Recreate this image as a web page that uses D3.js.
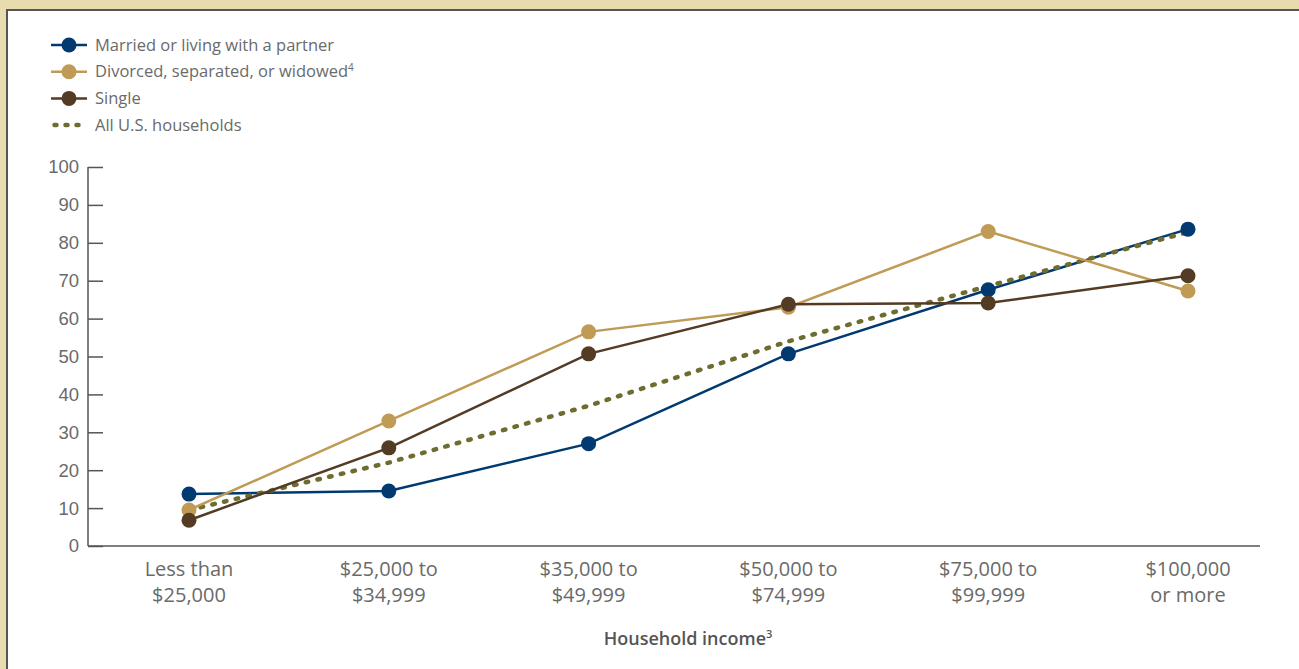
<!DOCTYPE html>
<html>
<head>
<meta charset="utf-8">
<script src="https://cdn.jsdelivr.net/npm/d3@7"></script>
<style>
  body { margin: 0; background: #e8dcae; }
  svg { display: block; font-family: "Open Sans", Lato, sans-serif; }
</style>
</head>
<body>
<div id="chart"></div>
<script>
// Income brackets (two-line labels)
const categories = [
  ["Less than", "$25,000"],
  ["$25,000 to", "$34,999"],
  ["$35,000 to", "$49,999"],
  ["$50,000 to", "$74,999"],
  ["$75,000 to", "$99,999"],
  ["$100,000", "or more"]
];

const married = [13.7, 14.5, 27, 50.7, 67.6, 83.6];
const divorced = [9.5, 33, 56.5, 63, 83, 67.3];
const single = [6.8, 25.9, 50.7, 63.8, 64.1, 71.3];
const allUS = [9.5, 22, 37, 54, 68.6, 82.8];

const yTicks = [0, 10, 20, 30, 40, 50, 60, 70, 80, 90, 100];

const series = [
  { name: "Married or living with a partner", sup: "", values: married, color: "#003a70", dotted: false },
  { name: "Divorced, separated, or widowed", sup: "4", values: divorced, color: "#bf9b55", dotted: false },
  { name: "Single", sup: "", values: single, color: "#533b24", dotted: false },
  { name: "All U.S. households", sup: "", values: allUS, color: "#6e6c2f", dotted: true }
];

const W = 1299, H = 669;
const svg = d3.select("#chart").append("svg")
    .attr("width", W)
    .attr("height", H);

// white panel with dark top/left border
svg.append("rect")
    .attr("x", 7).attr("y", 10)
    .attr("width", W).attr("height", H)
    .attr("fill", "#fff");
svg.append("path")
    .attr("d", `M7,${H} V10 H${W}`)
    .attr("fill", "none")
    .attr("stroke", "#555")
    .attr("stroke-width", 2);

const x = d3.scalePoint()
    .domain(d3.range(categories.length))
    .range([189, 1188]);

const y = d3.scaleLinear()
    .domain([0, 100])
    .range([546, 167]);

// y axis
const yAxis = svg.append("g")
    .attr("transform", "translate(88,0)")
    .call(d3.axisRight(y).tickValues(yTicks).tickSize(15).tickFormat(d3.format("d")));
yAxis.select(".domain").remove();
yAxis.selectAll(".tick line").attr("stroke", "#555").attr("stroke-width", 1.5);
yAxis.selectAll(".tick text")
    .attr("x", -9)
    .attr("text-anchor", "end")
    .attr("fill", "#6a6a6a")
    .style("font-size", "18.5px");
svg.append("line")
    .attr("x1", 88).attr("x2", 88)
    .attr("y1", y(100)).attr("y2", y(0))
    .attr("stroke", "#555").attr("stroke-width", 1.5);

// x axis
svg.append("line")
    .attr("x1", 88).attr("x2", 1260)
    .attr("y1", y(0)).attr("y2", y(0))
    .attr("stroke", "#555").attr("stroke-width", 1.5);

const xLabels = svg.append("g").selectAll("text")
    .data(categories)
    .join("text")
    .attr("x", (d, i) => x(i))
    .attr("y", 576)
    .attr("text-anchor", "middle")
    .attr("fill", "#6a6a6a")
    .style("font-size", "20px");
xLabels.append("tspan").attr("x", (d, i) => x(i)).text(d => d[0]);
xLabels.append("tspan").attr("x", (d, i) => x(i)).attr("dy", 26).text(d => d[1]);

const title = svg.append("text")
    .attr("x", 688).attr("y", 645)
    .attr("text-anchor", "middle")
    .attr("fill", "#555")
    .style("font-size", "18px")
    .style("font-weight", "600")
    .text("Household income");
title.append("tspan").attr("dy", -7).style("font-size", "11px").text("3");

// lines
const line = d3.line()
    .x((d, i) => x(i))
    .y(d => y(d));

const drawOrder = [series[0], series[3], series[1], series[2]];
drawOrder.forEach(s => {
  const p = svg.append("path")
      .datum(s.values)
      .attr("d", line)
      .attr("fill", "none")
      .attr("stroke", s.color);
  if (s.dotted) {
    p.attr("stroke-width", 4.5)
     .attr("stroke-dasharray", "2.5,9.5")
     .attr("stroke-linecap", "round");
  } else {
    p.attr("stroke-width", 2.5);
  }
});

// markers
[series[0], series[1], series[2]].forEach(s => {
  svg.append("g").selectAll("circle")
      .data(s.values)
      .join("circle")
      .attr("cx", (d, i) => x(i))
      .attr("cy", d => y(d))
      .attr("r", 7.5)
      .attr("fill", s.color);
});

// legend
const legend = svg.append("g").selectAll("g")
    .data(series)
    .join("g")
    .attr("transform", (d, i) => `translate(51,${45 + i * 26.7})`);

legend.each(function(s) {
  const g = d3.select(this);
  if (s.dotted) {
    g.append("line")
        .attr("x1", 3.5).attr("x2", 36)
        .attr("stroke", s.color)
        .attr("stroke-width", 4.5)
        .attr("stroke-dasharray", "2,9")
        .attr("stroke-linecap", "round");
  } else {
    g.append("line")
        .attr("x1", 0).attr("x2", 36)
        .attr("stroke", s.color)
        .attr("stroke-width", 2.5);
    g.append("circle")
        .attr("cx", 18).attr("r", 7.5)
        .attr("fill", s.color);
  }
  const t = g.append("text")
      .attr("x", 44).attr("dy", "0.35em")
      .attr("fill", "#6a6a6a")
      .style("font-size", "16.5px")
      .text(s.name);
  if (s.sup) t.append("tspan").attr("dy", -6).style("font-size", "10px").text(s.sup);
});
</script>
</body>
</html>
